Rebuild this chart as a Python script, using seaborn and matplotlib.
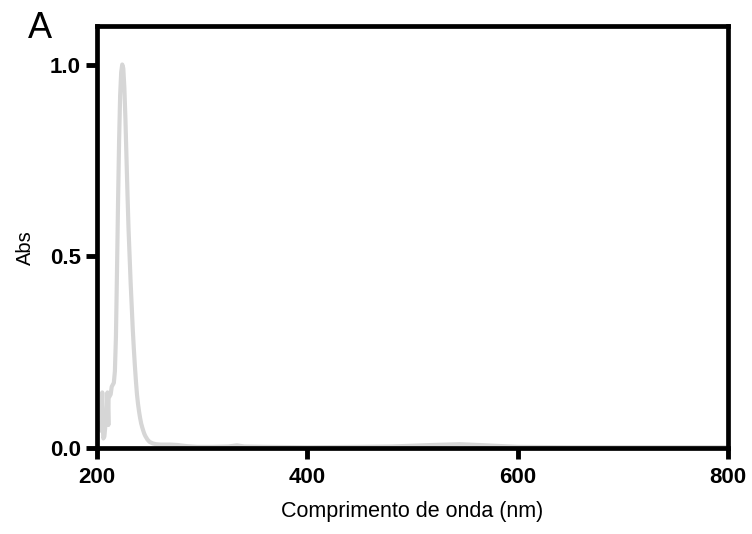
import numpy as np
import pandas as pd
import matplotlib
matplotlib.use("Agg")
import matplotlib.pyplot as plt
import seaborn as sns

wavelength = [200, 202, 203, 204, 205, 205.5, 206, 207, 208, 209, 210, 210.8, 211, 212, 213, 214, 215,
              216, 217, 218, 219, 220, 221, 222, 223, 224, 225, 226, 227, 228, 229, 230,
              231, 232, 233, 234, 235, 236, 237, 238, 239, 240, 241, 242, 243, 244, 245,
              246, 248, 250, 253, 256, 260, 265, 270, 276, 285, 295, 310, 325, 333, 340,
              360, 400, 450, 480, 500, 520, 545, 570, 600, 650, 700, 750, 800]
absorbance = [0.055, 0.065, 0.06, 0.045, 0.145, 0.06, 0.025, 0.03, 0.06, 0.09, 0.145, 0.06, 0.13, 0.135, 0.14, 0.16, 0.165,
              0.17, 0.2, 0.29, 0.46, 0.64, 0.8, 0.92, 0.98, 1.0, 0.99, 0.94, 0.86, 0.76, 0.66, 0.57,
              0.5, 0.43, 0.37, 0.31, 0.26, 0.215, 0.175, 0.14, 0.115, 0.095, 0.078, 0.064, 0.054, 0.045, 0.037,
              0.031, 0.022, 0.016, 0.012, 0.010, 0.009, 0.009, 0.009, 0.008, 0.005, 0.003, 0.003, 0.004, 0.007, 0.004,
              0.003, 0.002, 0.003, 0.004, 0.006, 0.008, 0.010, 0.007, 0.003, 0.002, 0.002, 0.002, 0.002]

xticks = [200, 400, 600, 800]
yticks = [0.0, 0.5, 1.0]
ytick_labels = ["0.0", "0.5", "1.0"]

df = pd.DataFrame({"wl": wavelength, "abs": absorbance})

sns.set_theme(style="white")
plt.rcParams["font.family"] = ["Liberation Sans", "DejaVu Sans"]
plt.rcParams.update({"text.color": "black", "axes.labelcolor": "black",
                     "xtick.color": "black", "ytick.color": "black"})

fig = plt.figure(figsize=(7.52, 5.34), dpi=100)
ax = fig.add_axes([0.129, 0.161, 0.839, 0.790])
sns.lineplot(data=df, x="wl", y="abs", ax=ax, color="#d6d6d6", linewidth=3.0)

ax.set_xlim(200, 800)
ax.set_ylim(0, 1.1)
ax.set_xticks(xticks)
ax.set_xticklabels([str(t) for t in xticks], fontweight="bold", fontsize=16)
ax.set_yticks(yticks)
ax.set_yticklabels(ytick_labels, fontweight="bold", fontsize=16)
ax.tick_params(axis="both", which="major", direction="out", length=8, width=3.5,
               color="black", bottom=True, left=True)
ax.tick_params(axis="x", pad=6)
ax.tick_params(axis="y", pad=3.5)
for s in ax.spines.values():
    s.set_visible(True)
    s.set_color("black")
    s.set_linewidth(3.4)
ax.set_xlabel("Comprimento de onda (nm)", fontsize=15.5, labelpad=9)
ax.set_ylabel("Abs", fontsize=14.5)
ax.yaxis.set_label_coords(-0.098, 0.476)
fig.text(0.053, 0.929, "A", fontsize=26, ha="center", va="baseline")

fig.savefig("out.png", dpi=100)
